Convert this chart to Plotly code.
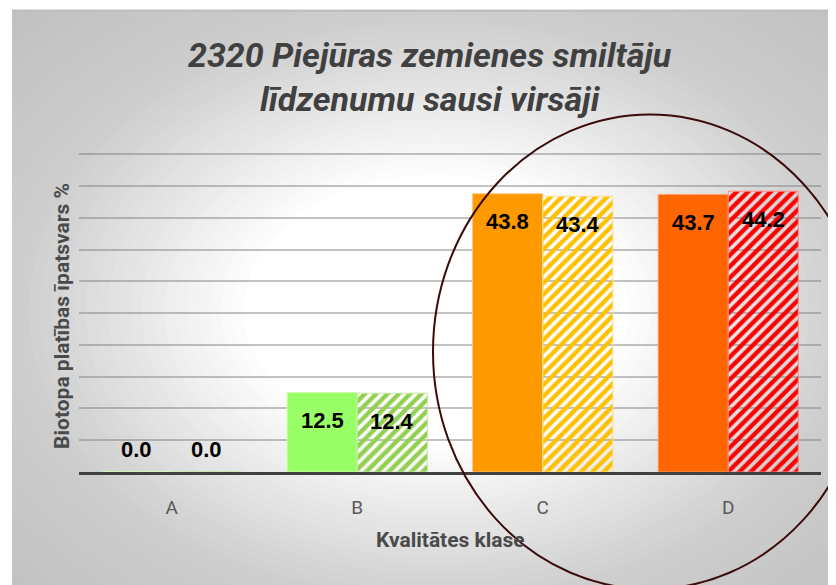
import plotly.graph_objects as go

# ---- data ----
categories = ["A", "B", "C", "D"]
values_solid = [0.0, 12.5, 43.8, 43.7]
values_hatched = [0.0, 12.4, 43.4, 44.2]
colors_solid = ["#99FF66", "#99FF66", "#FF9900", "#FF6600"]
colors_hatched = ["#92D050", "#92D050", "#FFC000", "#FF0000"]
outline_solid = ["#CCFFAA", "#CCFFAA", "#FFC47A", "#FFA370"]
outline_hatched = ["#C6E6A8", "#C6E6A8", "#FFE08A", "#FF8A8A"]
title_text = "2320 Piejūras zemienes smiltāju<br>līdzenumu sausi virsāji"
x_title = "Kvalitātes klase"
y_title = "Biotopa platības īpatsvars %"
y_max = 50
y_step = 5

# ---- layout geometry (reference-window pixels) ----
OFF = 8                      # browser body margin
W, H = 836 - OFF, 585 - OFF  # figure size
L, R, B = 79, 821, 472.5     # plot area in window px
T50 = 154                    # window px of y = y_max
y_top = y_max + 1
T = B - (B - T50) * y_top / y_max


def px(x):
    return (x - L) / (R - L)


def py(y):
    return (B - y) / (B - T)


bar_w = 0.378
idx = list(range(len(categories)))

fig = go.Figure()
fig.add_trace(go.Bar(
    x=idx, y=values_solid, width=bar_w, offset=-bar_w,
    marker=dict(color=colors_solid, line=dict(color=outline_solid, width=1)),
    hoverinfo="skip", showlegend=False,
))
fig.add_trace(go.Bar(
    x=idx, y=values_hatched, width=bar_w, offset=0,
    marker=dict(
        color=colors_hatched,
        line=dict(color=outline_hatched, width=1),
        pattern=dict(shape="/", fgcolor=colors_hatched, bgcolor="white",
                     size=8, solidity=0.55, fillmode="replace"),
    ),
    hoverinfo="skip", showlegend=False,
))

annotations = []
for vals, sgn in ((values_solid, -1), (values_hatched, 1)):
    for i, v in zip(idx, vals):
        annotations.append(dict(
            x=i + sgn * bar_w / 2, y=v, xref="x", yref="y",
            text=f"<b>{v:.1f}</b>", showarrow=False,
            yanchor="middle", yshift=(-28 if v > 0 else 23),
            font=dict(family="Liberation Sans, Arial", size=22, color="black"),
        ))

# titles
annotations.append(dict(
    x=px(430), y=py(76), xref="paper", yref="paper", showarrow=False,
    text=title_text, yanchor="middle", xanchor="center",
    font=dict(family="Roboto", size=34, color="#404040", weight=700, style="italic"),
))
annotations.append(dict(
    x=0.5, y=py(541), xref="paper", yref="paper", showarrow=False,
    text=f"<b>{x_title}</b>", yanchor="middle",
    font=dict(family="Roboto", size=21, color="#4a4a4a"),
))
annotations.append(dict(
    x=px(62), y=py(316), xref="paper", yref="paper", showarrow=False,
    text=f"<b>{y_title}</b>", textangle=-90, xanchor="center", yanchor="middle",
    font=dict(family="Roboto", size=21, color="#4a4a4a"),
))

# ---- background radial gradient ----
shapes = []
cx, cy, rx, ry = 436, 310, 424, 300
N = 60
rmax = 1.6


def gray_at(r):
    if r <= 0.45:
        return 255
    if r <= 1.0:
        return 255 - (r - 0.45) / 0.55 * 50
    return max(205 - (r - 1.0) / 0.5 * 15, 188)


for k in range(N, 0, -1):
    r = rmax * k / N
    g = int(round(gray_at(r)))
    shapes.append(dict(
        type="circle", xref="paper", yref="paper", layer="below",
        x0=px(cx - rx * r), x1=px(cx + rx * r),
        y0=py(cy + ry * r), y1=py(cy - ry * r),
        fillcolor=f"rgb({g},{g},{g})", line=dict(width=0),
    ))
# white margins outside the chart area box
shapes.append(dict(type="rect", xref="paper", yref="paper", layer="below",
                   x0=px(-50), x1=px(12), y0=py(700), y1=py(-50),
                   fillcolor="white", line=dict(width=0)))
shapes.append(dict(type="rect", xref="paper", yref="paper", layer="below",
                   x0=px(-50), x1=px(900), y0=py(9), y1=py(-50),
                   fillcolor="white", line=dict(width=0)))
shapes.append(dict(type="line", xref="paper", yref="paper", layer="below",
                   x0=px(12), x1=px(900), y0=py(10), y1=py(10),
                   line=dict(color="#bcbcbc", width=2)))

# highlight ellipse
ecx, ecy, erx, ery = 650, 352, 217, 238
shapes.append(dict(
    type="circle", xref="paper", yref="paper", layer="above",
    x0=px(ecx - erx), x1=px(ecx + erx), y0=py(ecy + ery), y1=py(ecy - ery),
    line=dict(color="#3B0A0A", width=2), fillcolor="rgba(0,0,0,0)",
))

fig.update_layout(
    width=W, height=H,
    margin=dict(l=L - OFF, r=(W + OFF) - R, t=T - OFF, b=(H + OFF) - B),
    paper_bgcolor="white", plot_bgcolor="rgba(0,0,0,0)",
    barmode="overlay", showlegend=False,
    shapes=shapes, annotations=annotations,
    xaxis=dict(
        range=[-0.5, len(categories) - 0.5], tickvals=idx, ticktext=categories,
        showgrid=False, zeroline=False, showline=True, linecolor="#404040",
        linewidth=3, ticks="", ticklabelstandoff=16,
        tickfont=dict(family="Roboto", size=19, color="#595959"),
        fixedrange=True,
    ),
    yaxis=dict(
        range=[0, y_top], tickvals=list(range(0, y_max + 1, y_step)),
        showticklabels=False,
        showgrid=True, gridcolor="rgba(120,120,120,0.45)", gridwidth=1.5,
        zeroline=False, fixedrange=True,
    ),
)

fig.write_html("out.html")
